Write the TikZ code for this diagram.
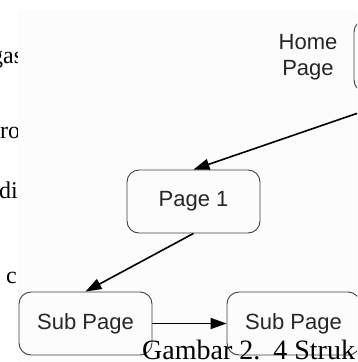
\documentclass[tikz,border=0pt]{standalone}
\usepackage{fontspec}
\setmainfont{Liberation Serif}
\newfontfamily\diagfont{Liberation Sans}
\usetikzlibrary{arrows.meta}
\begin{document}
\begin{tikzpicture}[x=1pt,y=-1pt,
  page/.style={draw=black!75,line width=0.9pt,rounded corners=12pt,minimum width=133pt,minimum height=63pt,inner sep=0pt,font=\diagfont\fontsize{22}{26}\selectfont,text=black!85},
  link/.style={-{Triangle[length=16pt,width=11pt]},line width=1.6pt},
  body/.style={font=\fontsize{24}{28}\selectfont,anchor=base west,inner sep=0pt}]
\useasboundingbox (0,0) rectangle (357,362);
\clip (0,0) rectangle (357,362);

% text of the page, cut off by the figure
\begin{scope}
\clip (0,0) rectangle (18,362);
\node[body] (line1) at (-9,63) {gas};
\node[body] (line2) at (0,138) {ro};
\node[body] (line3) at (-1,198) {di};
\node[body] (line4) at (6,283) {c};
\end{scope}

\fill[black!1] (18,10) rectangle (357,362);

% the pages
\node[page,minimum width=128pt,minimum height=72pt] (home) at (418,56) {};
\node[font=\diagfont\fontsize{22}{26}\selectfont,text=black!85,align=center,inner sep=0pt] (homelabel) at (308,57) {Home\\Page};
\node[page] (page1) at (193.5,201.5) {Page 1};
\node[page] (sub1) at (85.5,323.5) {Sub Page};
\node[page] (sub2) at (293.5,323.5) {Sub Page};

\draw[link] (home.south) -- (page1.north);
\draw[link] (page1.south) -- (sub1.north);
\draw[link] (sub1) -- (sub2);

\node[font=\fontsize{28}{32}\selectfont,anchor=base west,inner sep=0pt] (caption) at (142,359) {Gambar 2.\hspace{13pt}4 Struk};
\end{tikzpicture}
\end{document}
